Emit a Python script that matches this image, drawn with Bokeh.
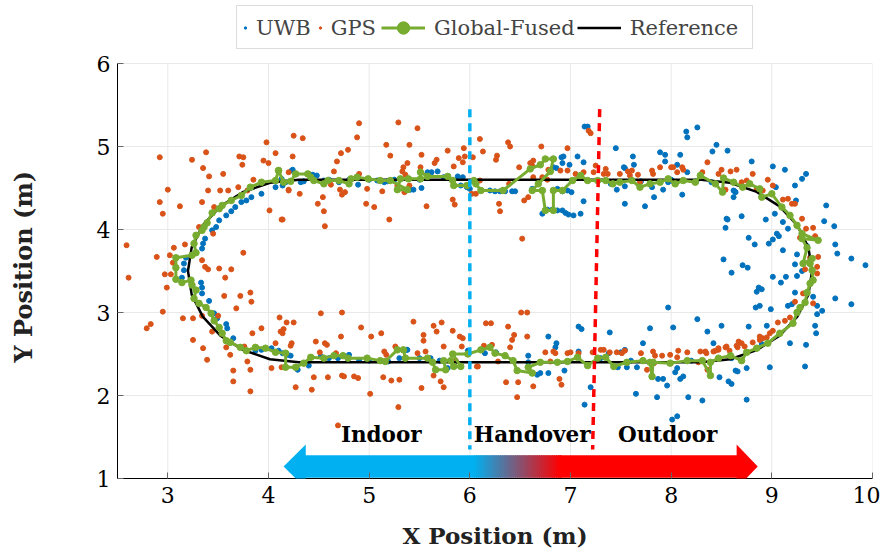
import numpy as np
from bokeh.plotting import figure
from bokeh.models import Range1d, FixedTicker, Legend, LegendItem, BoxAnnotation, PolyAnnotation, Title
from bokeh.core.properties import value
from bokeh.embed import file_html
from bokeh.resources import INLINE

# ---------------- data ----------------
x_ticks = [3, 4, 5, 6, 7, 8, 9, 10]
y_ticks = [1, 2, 3, 4, 5, 6]

gps_points = [
    (4.25,5.13),(3.98,5.05),(2.92,4.87),(3.24,4.84),(3.38,4.93),(3.71,4.88),(3.75,4.87),(3.74,4.78),(3.95,4.83),(4.00,4.80),
    (4.07,4.92),(4.24,4.88),(3.35,4.74),(3.55,4.67),(3.41,4.64),(3.00,4.48),(3.40,4.47),(3.52,4.47),(3.60,4.47),(3.70,4.51),
    (3.79,4.47),(3.85,4.60),(4.20,4.48),(2.92,4.33),(3.12,4.28),(3.34,4.33),(2.95,4.19),(4.01,4.23),(4.13,4.12),(3.46,4.27),
    (3.31,4.03),(3.45,3.95),(2.59,3.81),(3.06,3.78),(3.17,3.82),(2.89,3.67),(3.02,3.69),(3.75,3.72),(3.05,3.60),(3.34,3.63),
    (3.37,3.55),(3.40,3.52),(3.51,3.53),(3.63,3.52),(2.61,3.42),(2.97,3.46),(3.03,3.46),(3.57,3.42),(2.99,3.30),(3.56,3.20),
    (3.72,3.20),(3.82,3.24),(3.83,3.13),(3.68,3.05),(2.95,3.01),(3.15,2.93),(3.25,2.93),(3.34,2.96),(3.50,2.96),(2.83,2.86),
    (2.79,2.81),(3.44,2.77),(3.93,2.81),(4.11,2.94),(4.18,2.88),(4.25,2.88),(4.12,2.77),(4.14,2.75),(4.07,2.63),(3.84,2.75),
    (3.25,2.67),(3.58,2.58),(3.35,2.57),(3.76,2.59),(4.23,2.63),(3.39,2.43),(3.62,2.49),(3.79,2.41),(4.03,2.33),(3.65,2.30),
    (3.82,2.31),(3.65,2.17),(3.82,2.05),(4.27,2.10),(4.13,2.34),
    (4.90,5.28),(5.29,5.29),(5.48,5.22),(4.34,5.10),(4.88,5.11),(5.17,5.02),(5.40,5.02),(5.21,4.89),(4.72,4.92),(4.79,4.96),
    (4.68,4.82),(5.52,4.90),(5.78,4.95),(5.94,4.98),(5.89,4.86),(5.93,4.81),(5.95,4.88),(5.67,4.84),(5.65,4.80),(5.38,4.80),
    (5.33,4.70),(5.34,4.75),(5.36,4.66),(5.51,4.75),(4.65,4.70),(4.90,4.67),(5.84,4.76),(6.10,5.09),(4.20,4.69),(4.20,4.47),
    (4.31,4.43),(4.62,4.54),(4.71,4.48),(4.73,4.42),(4.76,4.45),(4.98,4.49),(5.13,4.46),(5.28,4.53),(5.40,4.53),(5.35,4.45),
    (4.54,4.39),(4.49,4.31),(4.55,4.22),(4.97,4.31),(5.05,4.27),(5.57,4.28),(5.83,4.36),(5.85,4.30),(6.02,4.43),(6.06,4.43),
    (4.14,4.12),(5.20,4.12),(4.56,4.04),(6.10,4.59),
    (7.18,5.19),(7.20,5.16),(6.97,4.98),(6.71,5.00),(6.63,4.83),(6.60,4.80),(6.62,4.77),(6.49,4.75),(6.78,4.72),(6.90,4.71),
    (6.97,4.71),(7.05,4.67),(7.13,4.69),(7.23,4.69),(7.25,4.77),(7.35,4.73),(7.33,4.67),(7.37,4.67),(7.49,4.67),(7.57,4.70),
    (7.59,4.65),(6.63,4.63),(6.72,4.63),(6.77,4.60),(6.39,4.55),(6.54,4.35),(6.58,4.39),(6.52,3.89),(6.38,5.05),(6.40,5.00),
    (6.27,4.89),(6.26,4.84),(6.13,4.94),(6.03,4.87),(6.29,4.31),(6.30,4.22),
    (7.61,4.71),(7.67,4.66),(7.81,4.71),(7.82,4.67),(7.89,4.75),(8.00,4.75),(8.02,4.75),(8.06,4.69),(8.11,4.75),(8.12,4.72),
    (7.69,4.57),(8.31,4.69),(8.36,4.81),(8.47,4.67),(8.50,4.72),(8.59,4.70),(8.65,4.72),(8.54,4.48),
    (8.81,4.67),(8.70,4.57),(8.75,4.59),(8.96,4.60),(9.01,4.53),(8.85,4.49),(8.91,4.47),(9.11,4.36),(9.16,4.37),(9.20,4.31),
    (9.23,4.31),(9.30,4.13),(9.34,4.01),(9.41,4.02),(9.43,3.92),(9.28,3.90),(9.46,3.67),(9.38,3.66),(9.45,3.55),(9.33,3.52),
    (9.45,3.47),(9.31,3.23),(9.23,3.13),(9.41,3.11),(9.18,2.94),(9.13,2.90),(9.06,2.88),(9.01,2.78),(8.98,2.75),(8.88,2.71),
    (8.91,2.69),(8.81,2.64),(8.67,2.65),(8.66,2.58),(8.54,2.58),(8.47,2.55),(8.42,2.53),
    (8.34,2.53),(7.39,2.52),(7.33,2.55),(7.22,2.52),(7.51,2.51),(7.54,2.54),(7.70,2.51),(7.82,2.53),(7.84,2.48),(7.91,2.48),
    (7.99,2.49),(8.07,2.54),(8.16,2.52),(8.29,2.53),(8.35,2.51),(8.44,2.54),(8.47,2.57),(8.55,2.59),(8.58,2.54),(8.65,2.60),
    (8.70,2.63),(8.73,2.59),(8.88,2.67),(8.95,2.70),(7.76,2.31),(7.83,2.39),(8.27,2.40),(8.36,2.31),(8.06,2.46),
    (6.51,3.00),(6.57,3.00),(6.16,2.87),(6.21,2.87),(6.38,2.83),(6.44,2.73),(6.57,2.71),(6.42,2.67),(6.40,2.58),(6.14,2.60),
    (6.22,2.61),(6.75,2.52),(6.83,2.53),(6.85,2.51),(6.97,2.51),(7.00,2.52),(7.08,2.51),(7.30,2.55),(7.46,2.52),(6.28,2.41),
    (6.07,2.35),(6.48,2.16),(6.36,2.16),(6.63,2.11),(6.89,2.20),(6.91,2.13),(6.47,1.98),(6.80,2.41),
    (4.52,2.99),(4.73,3.00),(4.15,2.80),(4.92,2.82),(5.44,2.89),(5.64,2.84),(5.72,2.88),(5.67,2.77),(5.83,2.78),(5.54,2.73),
    (5.54,2.66),(5.90,2.71),(5.93,2.69),(5.92,2.59),(4.47,2.65),(4.56,2.63),(4.58,2.61),(4.72,2.71),(5.02,2.71),(5.12,2.75),
    (4.22,2.60),(5.74,2.59),(5.26,2.59),(5.15,2.53),(5.17,2.49),(5.48,2.51),(5.56,2.53),(4.51,2.52),(4.67,2.51),(4.45,2.22),
    (4.59,2.22),(4.73,2.24),(4.75,2.23),(4.85,2.23),(4.89,2.21),(5.14,2.22),(5.22,2.18),(5.30,2.19),(5.64,2.24),(5.71,2.17),
    (5.74,2.10),(5.52,2.09),(4.43,2.07),(5.01,2.02),(5.29,1.86),(4.69,1.64),(6.08,2.35),(5.83,2.40),(5.86,2.42),
]

uwb_points = [
    (7.14,5.24),(7.17,5.24),(7.45,4.98),(7.07,4.88),(6.93,4.88),(6.91,4.87),(7.13,4.81),(7.54,4.74),(7.63,4.78),(6.99,4.78),
    (7.13,4.34),(7.10,4.19),(7.54,4.31),(7.46,4.48),(7.54,4.52),(6.72,4.19),(6.77,4.24),(6.82,4.24),(6.87,4.23),(6.92,4.23),
    (6.95,4.20),(6.98,4.18),(7.03,4.17),(6.62,4.49),(6.83,4.75),(6.86,4.74),(6.92,4.80),(6.87,4.49),(6.92,4.46),(6.97,4.47),
    (7.01,4.45),
    (8.15,5.18),(8.16,5.11),(8.26,5.23),(7.62,4.88),(7.89,4.93),(7.94,4.90),(7.94,4.82),(8.09,4.90),(8.06,4.78),(8.16,4.69),
    (8.41,4.94),(8.45,5.02),(8.56,4.95),(7.53,4.75),(7.81,4.51),(7.92,4.48),(8.11,4.42),(7.83,4.39),(7.74,4.28),(7.97,4.57),
    (8.02,4.58),(8.62,4.47),(8.64,4.45),(8.55,4.13),(8.54,4.02),(8.62,4.39),
    (8.80,4.82),(9.01,4.76),(9.13,4.72),(9.34,4.67),(9.30,4.61),(9.23,4.53),(9.04,4.51),(8.63,4.46),(9.24,4.35),(9.54,4.29),
    (8.70,4.16),(8.56,4.12),(8.94,4.12),(9.03,4.19),(9.11,4.09),(9.52,4.10),(9.62,4.04),(9.16,4.01),(8.77,3.90),(9.05,3.95),
    (9.07,3.92),(9.01,3.88),(8.97,3.83),(8.83,3.82),(9.11,3.75),(9.63,3.82),(9.65,3.71),(9.25,3.70),(9.79,3.65),(9.93,3.57),
    (8.52,3.64),(8.71,3.57),(8.76,3.54),(8.60,3.48),(9.23,3.58),(9.14,3.43),(9.25,3.44),(9.01,3.43),(9.09,3.36),(8.87,3.30),
    (8.90,3.28),(8.85,3.25),(9.23,3.24),(9.41,3.19),(9.63,3.17),(9.79,3.10),(8.88,3.08),(8.84,3.06),(8.99,3.04),(9.16,3.08),
    (9.45,3.08),(9.50,3.02),(9.45,2.98),(8.77,2.83),(8.50,2.84),(9.43,2.84),(9.44,2.75),(9.18,2.63),(9.34,2.61),(8.36,2.77),
    (8.42,2.63),(8.98,2.34),(9.33,2.35),(8.64,2.30),(8.66,2.29),(8.75,2.33),(8.48,2.22),(8.57,2.17),(8.60,2.14),(8.75,1.95),
    (8.31,1.94),
    (7.20,2.10),(7.39,2.76),(7.79,2.81),(7.97,3.06),(8.02,2.82),(8.26,2.92),(7.72,2.63),(7.50,2.52),(7.54,2.55),(8.95,2.84),
    (8.06,2.33),(8.09,2.20),(8.12,2.23),(7.87,2.20),(7.92,2.20),(7.81,2.22),(7.96,2.12),(8.04,2.28),(8.17,1.98),(7.86,1.98),
    (8.01,1.71),(8.06,1.75),(7.65,2.02),(7.47,2.34),(7.56,2.34),(7.66,2.34),(7.38,2.51),
    (7.08,2.83),(7.11,2.80),(6.78,2.71),(6.86,2.63),(6.85,2.58),(6.58,2.48),(6.58,2.40),(6.78,2.27),(6.70,2.27),(6.67,2.25),
    (6.94,2.30),(7.08,2.53),(7.14,1.89),(6.15,2.51),(6.26,2.52),
    (7.70,4.58),(8.00,4.60),(8.25,4.58),(8.40,4.57),(7.40,4.55),(7.30,2.45),(7.60,2.42),(8.20,2.42),(8.60,2.45),(8.90,2.62),
    (9.30,3.50),(9.35,3.80),(9.20,3.10),
    (4.13,4.61),(4.17,4.57),(4.23,4.71),(4.07,4.51),(3.93,4.43),(3.83,4.39),(3.78,4.35),(3.73,4.33),(3.67,4.27),(3.63,4.22),
    (3.58,4.17),(3.51,4.11),(3.48,4.03),(3.44,3.99),(3.37,3.89),(3.35,3.83),(3.34,3.77),(3.18,3.66),(3.16,3.59),(3.16,3.51),
    (3.14,3.42),(3.33,3.36),(3.34,3.30),(3.34,3.23),(3.41,3.14),(3.46,2.99),(3.49,2.93),(3.58,2.86),(3.59,2.81),(3.65,2.69),
    (3.87,2.54),(3.93,2.55),(4.03,2.57),(4.10,2.54),(4.22,2.48),
    (4.14,4.53),(4.24,4.72),(4.32,4.57),(4.35,4.58),(4.40,4.67),(4.44,4.66),(4.48,4.65),(4.55,4.59),(4.70,4.57),(4.89,4.54),
    (5.08,4.59),(5.18,4.58),(5.41,4.48),(5.44,4.48),(5.58,4.69),(5.68,4.70),(5.74,4.63),(5.88,4.64),(5.93,4.63),(6.00,4.49),
    (6.20,4.47),(6.30,4.46),(6.42,4.46),(6.45,4.46),(5.91,4.53),(5.97,4.51),(5.15,4.57),(4.60,4.60),(4.80,4.60),(5.00,4.60),
    (5.25,4.60),(5.50,4.60),(5.62,4.69),(5.52,4.50),(6.25,4.46),(6.35,4.46),
    (4.14,2.51),(4.19,2.49),(4.29,2.31),(4.40,2.36),(4.52,2.47),(4.69,2.45),(4.80,2.49),(5.19,2.41),(5.37,2.55),(5.38,2.55),
    (5.61,2.45),(5.78,2.33),(5.91,2.35),(5.86,2.41),(5.98,2.54),(4.60,2.45),(4.90,2.43),(5.00,2.42),(5.30,2.45),(5.50,2.45),
    (5.70,2.42),
]

fused_points = [
    (4.10,4.71),(4.07,4.59),(3.93,4.57),(3.82,4.51),(3.73,4.41),(3.63,4.35),(3.54,4.29),(3.51,4.25),(3.44,4.20),(3.39,4.08),
    (3.36,4.03),(3.34,3.99),(3.28,3.93),(3.26,3.83),(3.28,3.72),(3.24,3.69),(3.08,3.66),(3.08,3.54),(3.08,3.40),(3.14,3.36),
    (3.23,3.39),(3.24,3.33),(3.28,3.27),(3.26,3.17),(3.31,3.11),(3.38,3.06),(3.43,2.99),(3.46,2.90),(3.51,2.82),(3.54,2.75),
    (3.58,2.66),(3.62,2.64),(3.72,2.58),(3.78,2.54),(3.87,2.58),(3.97,2.57),(4.07,2.52),(4.17,2.51),(4.17,2.34),(4.27,2.34),
    (4.35,2.39),(4.42,2.46),(4.55,2.45),(4.65,2.48),(4.74,2.48),(4.79,2.45),(4.98,2.45),(5.11,2.42),(5.16,2.41),(5.28,2.55),
    (5.34,2.55),(5.36,2.45),(5.58,2.45),(5.63,2.40),(5.66,2.31),(5.76,2.31),(5.74,2.42),(5.81,2.42),(5.84,2.35),(5.91,2.35),
    (5.83,2.50),(5.98,2.50),(6.11,2.55),(6.20,2.58),(6.25,2.51),(6.35,2.48),(6.43,2.42),(6.47,2.30),(6.62,2.27),(6.58,2.34),
    (6.70,2.40),(6.87,2.40),(6.97,2.41),(7.07,2.46),(7.17,2.36),(7.27,2.45),(7.35,2.46),(7.43,2.35),(7.56,2.40),(7.72,2.42),
    (7.79,2.40),(7.81,2.23),(7.82,2.40),(7.99,2.39),(8.16,2.42),(8.31,2.42),(8.39,2.24),(8.39,2.40),(8.47,2.45),(8.59,2.48),
    (8.70,2.42),(8.75,2.52),(8.85,2.57),(8.96,2.63),
    (9.08,2.75),(9.21,2.87),(9.25,3.00),(9.28,3.06),(9.33,3.12),(9.35,3.24),(9.38,3.35),(9.41,3.39),(9.40,3.51),(9.38,3.59),
    (9.40,3.65),(9.31,3.59),(9.35,3.78),(9.30,3.89),(9.46,3.87),(9.30,3.95),(9.25,4.05),(9.18,4.17),(9.10,4.27),(9.00,4.43),
    (8.90,4.39),(8.88,4.49),(8.78,4.55),(8.71,4.51),(8.62,4.57),(8.52,4.62),(8.51,4.45),(8.44,4.55),(8.29,4.65),
    (8.24,4.57),(8.12,4.59),(8.04,4.55),(7.97,4.61),(7.89,4.57),(7.79,4.55),(7.69,4.51),(7.61,4.59),(7.49,4.57),(7.42,4.55),
    (7.35,4.59),(7.27,4.59),(7.17,4.59),(7.10,4.65),(7.02,4.59),(6.92,4.47),(6.83,4.47),(6.83,4.23),(6.75,4.23),(6.72,4.47),
    (6.62,4.47),(6.68,4.55),(6.80,4.70),(6.83,4.85),(6.75,4.85),(6.70,4.78),(6.60,4.73),(6.33,4.47),(6.11,4.47),(6.06,4.55),
    (6.04,4.59),(5.97,4.53),(5.84,4.53),(5.83,4.59),(5.78,4.64),(5.58,4.64),(5.51,4.69),(5.51,4.61),(5.39,4.61),(5.31,4.61),
    (5.28,4.48),(5.38,4.48),(5.21,4.59),(5.11,4.59),(4.99,4.61),(4.88,4.63),(4.82,4.61),(4.80,4.55),(4.70,4.59),(4.59,4.59),
    (4.55,4.55),(4.45,4.59),(4.42,4.63),(4.39,4.67),(4.27,4.67),(4.22,4.58),(4.15,4.57),(4.10,4.71),
]

reference_points = [
    (8.30,4.600),(8.585,4.563),(8.850,4.453),(9.078,4.278),(9.253,4.050),(9.363,3.785),(9.400,3.500),
    (9.363,3.215),(9.253,2.950),(9.078,2.722),(8.850,2.547),(8.585,2.437),(8.30,2.400),
    (4.30,2.400),(4.015,2.437),(3.750,2.547),(3.522,2.722),(3.347,2.950),(3.237,3.215),(3.200,3.500),
    (3.237,3.785),(3.347,4.050),(3.522,4.278),(3.750,4.453),(4.015,4.563),(4.30,4.600),(8.30,4.600),
]

zone_names = ["Indoor", "Handover", "Outdoor"]
zone_label_x = [5.12, 6.62, 7.965]
zone_label_y = [1.53, 1.53, 1.53]

indoor_boundary_x = [6.0, 6.0]
indoor_boundary_y = [5.45, 1.35]
outdoor_boundary_x = [7.29, 7.22]
outdoor_boundary_y = [5.45, 1.35]

# ---------------- styling ----------------
C_UWB = "#0072BD"
C_GPS = "#D95319"
C_FUSED = "#77AC30"
C_CYAN = (0, 176, 240)
C_RED = (255, 0, 0)
C_GRID = "#e9e9e9"
FONT = "DejaVu Serif"

def hexc(c):
    return "#%02x%02x%02x" % c

ux, uy = zip(*uwb_points)
gx, gy = zip(*gps_points)
fx, fy = zip(*fused_points)
rx, ry = zip(*reference_points)

Y_MIN, Y_MAX = y_ticks[0], y_ticks[-1]
FRAME_TOP_EXTRA = 63 / 83.0   # room above y=6 for the legend (inside the frame)

p = figure(title=None, frame_width=755, frame_height=478, output_backend="svg", toolbar_location=None,
           x_range=Range1d(2.5, 10), y_range=Range1d(Y_MIN, Y_MAX + FRAME_TOP_EXTRA),
           min_border_left=117, min_border_right=8, min_border_top=0, min_border_bottom=74)
p.outline_line_color = None
p.background_fill_color = "white"
p.border_fill_color = "white"

for ax in (p.xaxis, p.yaxis):
    ax.axis_line_color = "black"
    ax.axis_line_width = 1
    ax.major_tick_in = 6
    ax.major_tick_out = 0
    ax.major_tick_line_color = "#666666"
    ax.minor_tick_line_color = None
    ax.major_label_text_font = FONT
    ax.major_label_text_font_size = "22px"
    ax.major_label_text_color = "black"
    ax.axis_label_text_font = FONT
    ax.axis_label_text_font_style = "bold"
    ax.axis_label_text_font_size = "23px"
    ax.axis_label_text_color = "#222222"

p.xaxis.ticker = FixedTicker(ticks=x_ticks)
p.yaxis.ticker = FixedTicker(ticks=y_ticks)
p.yaxis.bounds = (Y_MIN, Y_MAX)
p.xaxis.axis_label = "X Position (m)"
p.xaxis.major_label_standoff = 8
p.xaxis.axis_label_standoff = 16
p.yaxis.major_label_standoff = 7
# blank spacer label keeps the y title away from the tick labels
p.yaxis.axis_label = " "
p.yaxis.axis_label_standoff = 26

ylab = Title(text="Y Position (m)", align="left", offset=116, standoff=0,
             text_font=FONT, text_font_style="bold", text_font_size="24px", text_color="#222222")
p.add_layout(ylab, "left")

p.ygrid.grid_line_color = C_GRID
p.ygrid.grid_line_width = 1
p.xgrid.visible = False
p.segment(x0=x_ticks, y0=[Y_MIN] * len(x_ticks), x1=x_ticks, y1=[Y_MAX] * len(x_ticks),
          line_color=C_GRID, line_width=1, level="underlay")

# legend frame (drawn under the legends)
p.add_layout(BoxAnnotation(left=119, right=635, bottom=430, top=473, left_units="screen", right_units="screen",
                           bottom_units="screen", top_units="screen", fill_alpha=1, fill_color="white",
                           line_color="#8c8c8c", line_width=1, level="underlay"))

# arrow body (gradient) and heads
body_bottom, body_top = 1.01, 1.28
p.quad(left=[4.35], right=[6.05], bottom=[body_bottom], top=[body_top], fill_color=hexc(C_CYAN), line_color=None)
p.quad(left=[6.89], right=[8.67], bottom=[body_bottom], top=[body_top], fill_color=hexc(C_RED), line_color=None)
n = 40
edges = np.linspace(6.04, 6.90, n + 1)
cols = []
for i in range(n):
    t = (i + 0.5) / n
    cols.append(hexc(tuple(int(round(a + (b - a) * t)) for a, b in zip(C_CYAN, C_RED))))
p.quad(left=edges[:-1], right=edges[1:] + 0.012, bottom=body_bottom, top=body_top, fill_color=cols, line_color=None)
p.add_layout(PolyAnnotation(xs=[4.15, 4.37, 4.37], ys=[1.145, 1.41, 0.88], fill_color=hexc(C_CYAN), fill_alpha=1, line_color=None))
p.add_layout(PolyAnnotation(xs=[8.86, 8.65, 8.65], ys=[1.145, 1.41, 0.88], fill_color=hexc(C_RED), fill_alpha=1, line_color=None))

r_uwb = p.scatter(ux, uy, size=5, color=C_UWB)
r_gps = p.scatter(gx, gy, size=5, color=C_GPS)
r_ref = p.line(rx, ry, line_color="black", line_width=2.5)
r_fl = p.line(fx, fy, line_color=C_FUSED, line_width=3)
r_fp = p.scatter(fx, fy, size=6.5, color=C_FUSED)

p.line(indoor_boundary_x, indoor_boundary_y, line_color=hexc(C_CYAN), line_width=3.5, line_dash="8 6")
p.line(outdoor_boundary_x, outdoor_boundary_y, line_color=hexc(C_RED), line_width=3.5, line_dash="8 6")

p.text(x=zone_label_x, y=zone_label_y, text=zone_names, text_font=value(FONT), text_font_style="bold",
       text_font_size="21.5px", text_align="center", text_baseline="alphabetic", text_color="black")

common = dict(orientation="horizontal", glyph_height=31, label_height=31, padding=6, margin=0,
              label_text_font=FONT, label_text_font_size="21px", border_line_color=None,
              background_fill_alpha=0.0, label_width=0)
leg_a = Legend(items=[LegendItem(label="UWB", renderers=[r_uwb]), LegendItem(label="GPS", renderers=[r_gps])],
               location=(125, 435), glyph_width=6, label_standoff=8, spacing=6, **common)
leg_b = Legend(items=[LegendItem(label="Global-Fused", renderers=[r_fl, r_fp]), LegendItem(label="Reference", renderers=[r_ref])],
               location=(264, 435), glyph_width=44, label_standoff=9, spacing=2, **common)
p.add_layout(leg_a)
p.add_layout(leg_b)

open("out.html", "w").write(file_html(p, INLINE))
